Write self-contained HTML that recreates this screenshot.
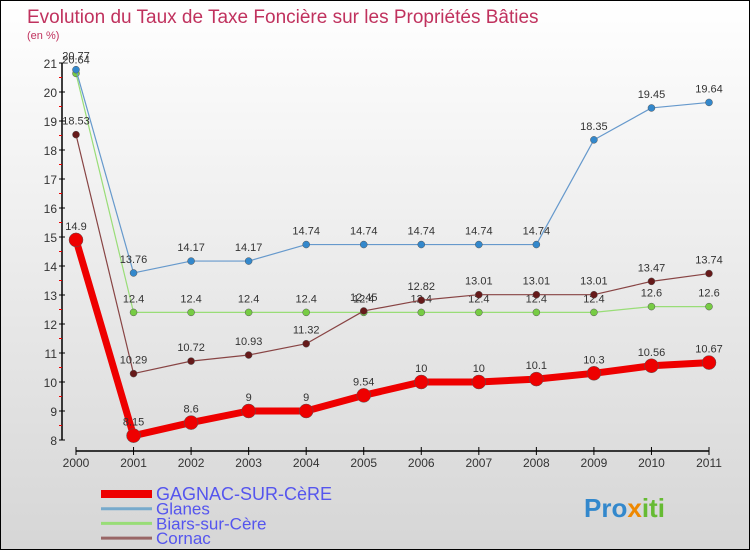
<!DOCTYPE html>
<html><head><meta charset="utf-8"><style>
body{margin:0}
#c{width:750px;height:550px;position:relative;box-sizing:border-box;border:1px solid #000;background:linear-gradient(#ffffff,#d6d6d6);font-family:"Liberation Sans",sans-serif;overflow:hidden}
</style></head><body>
<div id="c">
<svg id="s" width="750" height="550" style="position:absolute;left:0;top:0"></svg>
</div>
<script>
const years=["2000","2001","2002","2003","2004","2005","2006","2007","2008","2009","2010","2011"];
const gagnac=[14.9,8.15,8.6,9,9,9.54,10,10,10.1,10.3,10.56,10.67];
const glanes=[20.77,13.76,14.17,14.17,14.74,14.74,14.74,14.74,14.74,18.35,19.45,19.64];
const biars=[20.64,12.4,12.4,12.4,12.4,12.4,12.4,12.4,12.4,12.4,12.6,12.6];
const cornac=[18.53,10.29,10.72,10.93,11.32,12.45,12.82,13.01,13.01,13.01,13.47,13.74];
const yTicks=[8,9,10,11,12,13,14,15,16,17,18,19,20,21];
const seriesNames=["GAGNAC-SUR-CèRE","Glanes","Biars-sur-Cère","Cornac"];
const NS="http://www.w3.org/2000/svg";
const s=document.getElementById('s');
const X=i=>75+i*(633/11);
const Y=v=>439-(v-8)*29;
function el(t,a,p){const e=document.createElementNS(NS,t);for(const k in a)e.setAttribute(k,a[k]);(p||s).appendChild(e);return e;}
function tx(x,y,str,a,p){const e=el('text',Object.assign({x:x,y:y},a),p);e.textContent=str;return e;}
let t=tx(26,22,"Evolution du Taux de Taxe Foncière sur les Propriétés Bâties",{fill:"#c0325e","font-size":"19"});


t=tx(26,38,"(en %)",{fill:"#c0325e","font-size":"11"});


let ax=el('line',{x1:61,y1:Y(21),x2:61,y2:Y(8),stroke:"#000","stroke-width":1.5});


yTicks.forEach(v=>{
 el('line',{x1:58,y1:Y(v),x2:64,y2:Y(v),stroke:"#000"});
 if(v<21) el('line',{x1:58,y1:Y(v+0.5),x2:61,y2:Y(v+0.5),stroke:"#e00"});
 const l=tx(56,Y(v)+5,String(v),{fill:"#333","font-size":"12","text-anchor":"end"});
 
 
});
ax=el('line',{x1:X(0),y1:450,x2:X(11),y2:450,stroke:"#000","stroke-width":1.5});


years.forEach((y,i)=>{
 el('line',{x1:X(i),y1:446,x2:X(i),y2:454,stroke:"#000"});
 const l=tx(X(i),466,y,{fill:"#333","font-size":"12","text-anchor":"middle"});
 
 
});
function series(data,color,w,r,name,dot){
 const g=el('g',{});
 
 
 el('polyline',{points:data.map((v,i)=>X(i)+","+Y(v)).join(" "),fill:"none",stroke:color,"stroke-width":w,"stroke-linejoin":"round"},g);
 data.forEach((v,i)=>{
  const c=el('circle',{cx:X(i),cy:Y(v),r:r,fill:dot||color,stroke:"#555","stroke-width":0.5},g);
  
  
  const l=tx(X(i),Y(v)-10,String(v),{fill:"#333","font-size":"11","text-anchor":"middle"},g);
  
  
 });
}
series(biars,"#99dd77",1.2,3.5,"biars-series","#77cc44");
series(glanes,"#6699cc",1.2,3.5,"glanes-series","#3388cc");
series(cornac,"#884444",1.2,3.5,"cornac-series","#661a1a");
series(gagnac,"#ee0000",7,7,"gagnac-series","#ee0000");
const lc=["#ee0000","#77aacc","#99dd77","#996666"],lw=[8,3,3,3];
seriesNames.forEach((n,i)=>{
 const y=493+i*14.7;
 const g=el('g',{});
 
 
 el('line',{x1:100,y1:y,x2:151,y2:y,stroke:lc[i],"stroke-width":lw[i]},g);
 tx(155,y+6,n,{fill:"#5555ee","font-size":i==0?"18":"17"},g);
});
const lg=el('text',{x:583,y:516,"font-size":"26","font-weight":"bold"});


[["Pro","#3388cc"],["x","#ee8800"],["iti","#66bb33"]].forEach(p=>{const sp=el('tspan',{fill:p[1]},lg);sp.textContent=p[0];});
</script>
</body></html>
